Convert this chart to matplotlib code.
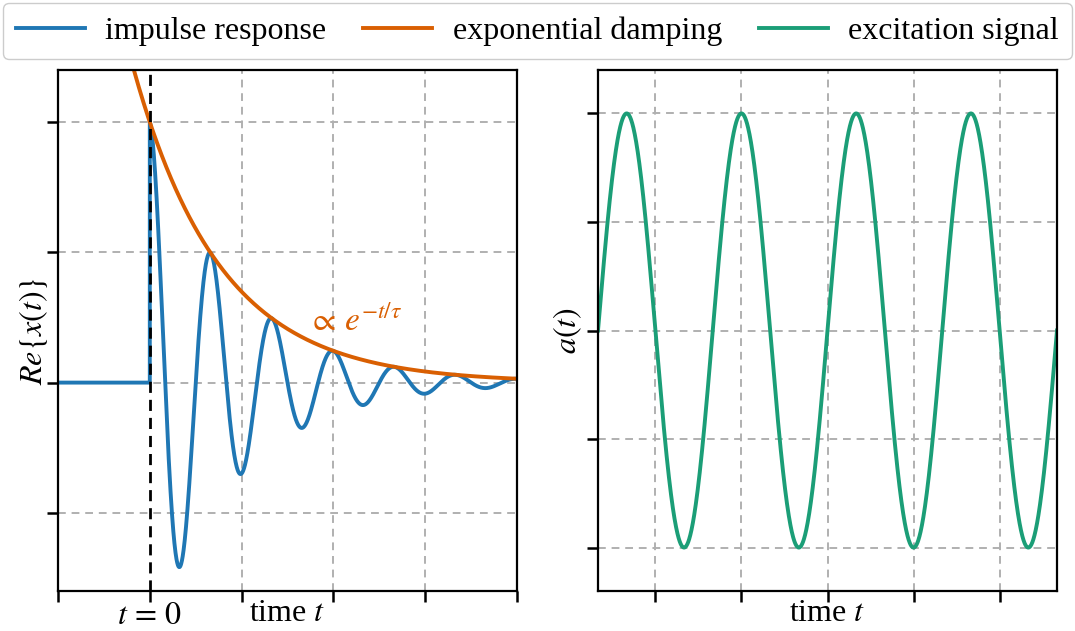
import numpy as np
import matplotlib
matplotlib.use("Agg")
import matplotlib.pyplot as plt

plt.rcParams['font.family'] = ['Liberation Serif', 'DejaVu Serif']
plt.rcParams['mathtext.fontset'] = 'stix'
plt.rcParams['font.size'] = 23

# damped oscillation parameters
tau = 0.95          # decay time
f_osc = 1.5         # oscillation frequency of the response
f_exc = 1.0         # excitation frequency

left_xlim = (-1, 4)
left_ylim = (-0.8, 1.2)
left_xticks = [-1, 0, 1, 2, 3, 4]
left_xticklabels = ['', '$t\\,=\\,0$', '', '', '', '']
left_yticks = [-0.5, 0, 0.5, 1.0]

right_xlim = (0, 4)
right_ylim = (-1.2, 1.2)
right_xticks = [0.5, 1.25, 2.0, 2.75, 3.5]
right_yticks = [-1, -0.5, 0, 0.5, 1]

c_blue = '#1f77b4'
c_orange = '#d95f02'
c_green = '#1b9e77'
grid_kw = dict(color='#b0b0b0', ls=(0, (4, 3)), lw=1.4)

fig = plt.figure(figsize=(10.75, 6.31), dpi=100)
ax1 = fig.add_axes([58/1075, 40/631, 459/1075, 521/631])
ax2 = fig.add_axes([598/1075, 40/631, 459/1075, 521/631])

# left: impulse response with envelope
t_pos = np.linspace(0, left_xlim[1], 2000)
t_resp = np.concatenate([[left_xlim[0], 0.0], t_pos])
x_resp = np.concatenate([[0.0, 0.0], np.exp(-t_pos / tau) * np.cos(2 * np.pi * f_osc * t_pos)])
t_env = np.linspace(left_xlim[0], left_xlim[1], 1000)
x_env = np.exp(-t_env / tau)

l1, = ax1.plot(t_resp, x_resp, color=c_blue, lw=2.8, label='impulse response')
l2, = ax1.plot(t_env, x_env, color=c_orange, lw=2.8, label='exponential damping')
ax1.axvline(0, color='black', ls=(0, (4, 2.5)), lw=2.0, zorder=3)
ax1.text(1.72, 0.2, r'$\propto\, e^{-t/\tau}$', color=c_orange, fontsize=24)

ax1.set_xlim(*left_xlim)
ax1.set_ylim(*left_ylim)
ax1.set_xticks(left_xticks)
ax1.set_xticklabels(left_xticklabels)
ax1.set_yticks(left_yticks)
ax1.set_yticklabels([])
ax1.set_xlabel('time $t$')
ax1.set_ylabel(r'$Re\{x(t)\}$', labelpad=-6)
for gx in left_xticks[2:-1]:
    ax1.axvline(gx, zorder=0, **grid_kw)
ax1.yaxis.grid(True, **grid_kw)

# right: excitation signal
t_exc = np.linspace(right_xlim[0], right_xlim[1], 2000)
a_exc = np.sin(2 * np.pi * f_exc * t_exc)
l3, = ax2.plot(t_exc, a_exc, color=c_green, lw=2.8, label='excitation signal')
ax2.set_xlim(*right_xlim)
ax2.set_ylim(*right_ylim)
ax2.set_xticks(right_xticks)
ax2.set_xticklabels([])
ax2.set_yticks(right_yticks)
ax2.set_yticklabels([])
ax2.set_xlabel('time $t$')
ax2.set_ylabel('$a(t)$', labelpad=-2)
ax2.grid(True, **grid_kw)

for ax in (ax1, ax2):
    ax.set_axisbelow(True)
    for s in ax.spines.values():
        s.set_linewidth(1.6)
    ax.tick_params(direction='out', length=8, width=1.8, pad=4)
    ax.xaxis.set_label_coords(0.5, -0.015, transform=ax.transAxes)
    ax.xaxis.label.set_va('top')
ax1.tick_params(axis='x', pad=0)

fig.legend(handles=[l1, l2, l3], loc='upper center', ncol=3,
           bbox_to_anchor=(0.5, 1 - 3/631),
           handlelength=2.15, handletextpad=0.65, columnspacing=1.15,
           borderpad=0.42, fontsize=23,
           fancybox=True, edgecolor='#cccccc', framealpha=1, borderaxespad=0)

fig.savefig('out.png', dpi=100)
